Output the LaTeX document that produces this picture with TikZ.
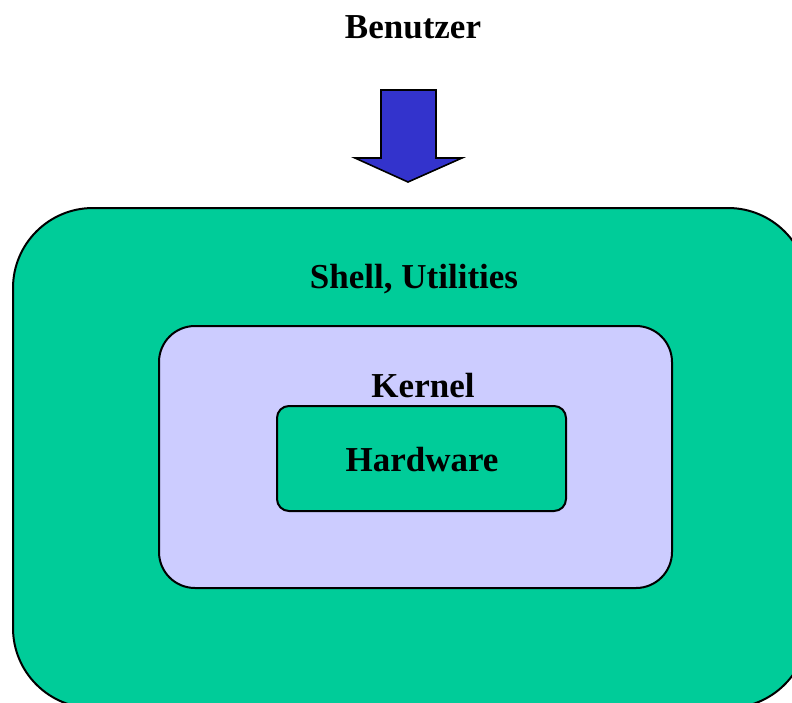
\documentclass[tikz,border=0pt]{standalone}
\usepackage{fontspec}
\setmainfont{Liberation Serif}
\definecolor{layergreen}{HTML}{00CC99}
\definecolor{kernelblue}{HTML}{CCCCFF}
\definecolor{arrowblue}{HTML}{3333CC}
\tikzset{
  layer/.style={draw=black, line width=2pt, inner sep=0pt},
  label/.style={font=\fontsize{35}{42}\selectfont\bfseries, inner sep=0pt, anchor=center},
}
\begin{document}
\begin{tikzpicture}[x=1pt,y=-1pt]
  \useasboundingbox (0,0) rectangle (792,702);
  \clip (0,0) rectangle (792,702);
  \fill[white] (0,0) rectangle (792,702);
  % outer layer: shell and utilities
  \node[layer, fill=layergreen, rounded corners=80pt, minimum width=795pt, minimum height=500pt] (shell) at (410.5,458) {};
  % kernel layer
  \node[layer, fill=kernelblue, rounded corners=36pt, minimum width=513pt, minimum height=262pt] (kernel) at (415.5,457) {};
  % hardware core
  \node[layer, fill=layergreen, rounded corners=12pt, minimum width=289pt, minimum height=105pt] (hw) at (421.5,458.5) {};
  % labels
  \node[label] (user) at (413,27) {Benutzer};
  \node[label] (shelltext) at (414,279) {Shell, Utilities};
  \node[label] (kerneltext) at (423,386) {Kernel};
  \node[label] (hwtext) at (422,460) {Hardware};
  % input arrow from the user
  \draw[line width=1.6pt, fill=arrowblue, line join=miter]
    (381,90) -- (436,90) -- (436,158) -- (462,158) -- (408,182) -- (355,158) -- (381,158) -- cycle;
\end{tikzpicture}
\end{document}
